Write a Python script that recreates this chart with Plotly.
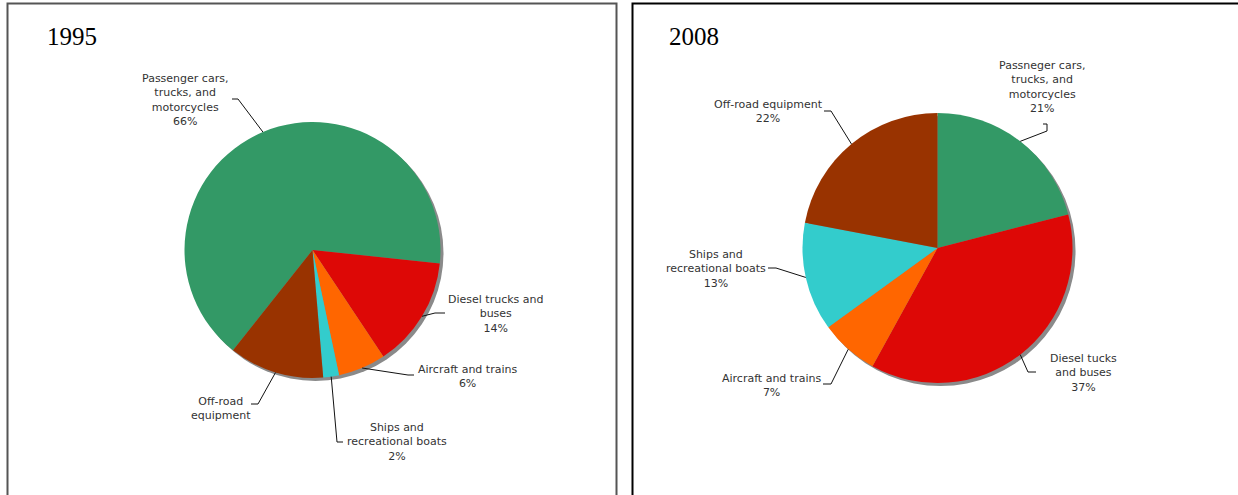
import math
import plotly.graph_objects as go

W, H = 1238, 495

# Shares of emissions by source, in percent
sources_1995 = ["Passenger cars, trucks, and motorcycles", "Diesel trucks and buses",
                "Aircraft and trains", "Ships and recreational boats", "Off-road equipment"]
share_1995 = [66, 14, 6, 2, 12]

sources_2008 = ["Passneger cars, trucks, and motorcycles", "Diesel tucks and buses",
                "Aircraft and trains", "Ships and recreational boats", "Off-road equipment"]
share_2008 = [21, 37, 7, 13, 22]

# Text lines of each slice label (the percentage line is appended from the data)
label_lines_1995 = [["Passenger cars,", "trucks, and", "motorcycles"],
                    ["Diesel trucks and", "buses"],
                    ["Aircraft and trains"],
                    ["Ships and", "recreational boats"],
                    ["Off-road", "equipment"]]
show_pct_1995 = [True, True, True, True, False]

label_lines_2008 = [["Passneger cars,", "trucks, and", "motorcycles"],
                    ["Diesel tucks", "and buses"],
                    ["Aircraft and trains"],
                    ["Ships and", "recreational boats"],
                    ["Off-road equipment"]]
show_pct_2008 = [True, True, True, True, True]

colors = ["#339966", "#DD0806", "#FF6600", "#33CCCC", "#993300"]
shadow_color = "#8a8a8a"

# Layout of the two panels (pixel units)
panels = [
    dict(year="1995", values=share_1995, names=sources_1995, lines=label_lines_1995,
         pct=show_pct_1995, cx=312.5, cy=250, r=128, rotation=218.4,
         title_xy=(45, 36),
         label_xy=[(185, 100), (496, 314), (467, 376), (397, 442), (221, 408)],
         leader_tail=[[(238, 99), (232, 99)],
                      [(435, 313), (445, 313)],
                      [(408, 375), (414, 375)],
                      [(337, 442), (343, 442)],
                      [(258, 404), (251, 404)]]),
    dict(year="2008", values=share_2008, names=sources_2008, lines=label_lines_2008,
         pct=show_pct_2008, cx=937.5, cy=248, r=135, rotation=0,
         title_xy=(667, 36),
         label_xy=[(1042, 87), (1083, 373), (771, 385), (716, 269), (768, 111)],
         leader_tail=[[(1047, 131), (1047, 124), (1043, 124)],
                      [(1028, 372), (1036, 372)],
                      [(831, 384), (823, 384)],
                      [(776, 268), (768, 268)],
                      [(831, 111), (824, 111)]]),
]

SHADOW_DX, SHADOW_DY = 3, 3


def domain_for(cx, cy, r):
    return dict(x=[(cx - r) / W, (cx + r) / W], y=[1 - (cy + r) / H, 1 - (cy - r) / H])


fig = go.Figure()

# Drop shadows behind the pies
for p in panels:
    fig.add_trace(go.Pie(values=[1], labels=["shadow"], sort=False,
                         marker=dict(colors=[shadow_color], line=dict(width=0)),
                         textinfo="none", hoverinfo="skip", showlegend=False,
                         domain=domain_for(p["cx"] + SHADOW_DX, p["cy"] + SHADOW_DY, p["r"])))

shapes = []
annotations = []

for p in panels:
    fig.add_trace(go.Pie(values=p["values"], labels=p["names"], sort=False,
                         direction="clockwise", rotation=p["rotation"],
                         marker=dict(colors=colors, line=dict(width=0)),
                         textinfo="none", showlegend=False,
                         domain=domain_for(p["cx"], p["cy"], p["r"])))

    total = sum(p["values"])
    start = p["rotation"]
    for i, v in enumerate(p["values"]):
        mid = math.radians(start + v / total * 360 / 2)
        start += v / total * 360
        ex = p["cx"] + p["r"] * math.sin(mid)
        ey = p["cy"] - p["r"] * math.cos(mid)
        pts = [(ex, ey)] + p["leader_tail"][i]
        path = "M {} {}".format(*pts[0]) + "".join(" L {} {}".format(x, y) for x, y in pts[1:])
        shapes.append(dict(type="path", path=path, xref="x", yref="y",
                           line=dict(color="#111111", width=1), layer="above"))

        text_lines = list(p["lines"][i])
        if p["pct"][i]:
            text_lines.append(f"{v}%")
        lx, ly = p["label_xy"][i]
        annotations.append(dict(x=lx, y=ly, xref="x", yref="y", text="<br>".join(text_lines),
                                showarrow=False, xanchor="center", yanchor="middle", align="center",
                                font=dict(family="Verdana, DejaVu Sans, sans-serif", size=11,
                                          color="#333333")))

    tx, ty = p["title_xy"]
    annotations.append(dict(x=tx, y=ty, xref="x", yref="y", text=p["year"], showarrow=False,
                            xanchor="left", yanchor="middle",
                            font=dict(family="Times New Roman, Liberation Serif, serif", size=25,
                                      color="#000000")))

# Panel frames (open at the bottom)
shapes.append(dict(type="path", path="M 7.5 495 L 7.5 3.5 L 616.5 3.5 L 616.5 495",
                   xref="x", yref="y", line=dict(color="#555555", width=2)))
shapes.append(dict(type="path", path="M 632.5 495 L 632.5 3.5 L 1238 3.5",
                   xref="x", yref="y", line=dict(color="#000000", width=2)))

fig.update_layout(
    width=W, height=H,
    margin=dict(l=0, r=0, t=0, b=0),
    paper_bgcolor="white", plot_bgcolor="white",
    xaxis=dict(range=[0, W], visible=False, fixedrange=True),
    yaxis=dict(range=[H, 0], visible=False, fixedrange=True),
    shapes=shapes, annotations=annotations, showlegend=False,
)

fig.write_html("out.html")
